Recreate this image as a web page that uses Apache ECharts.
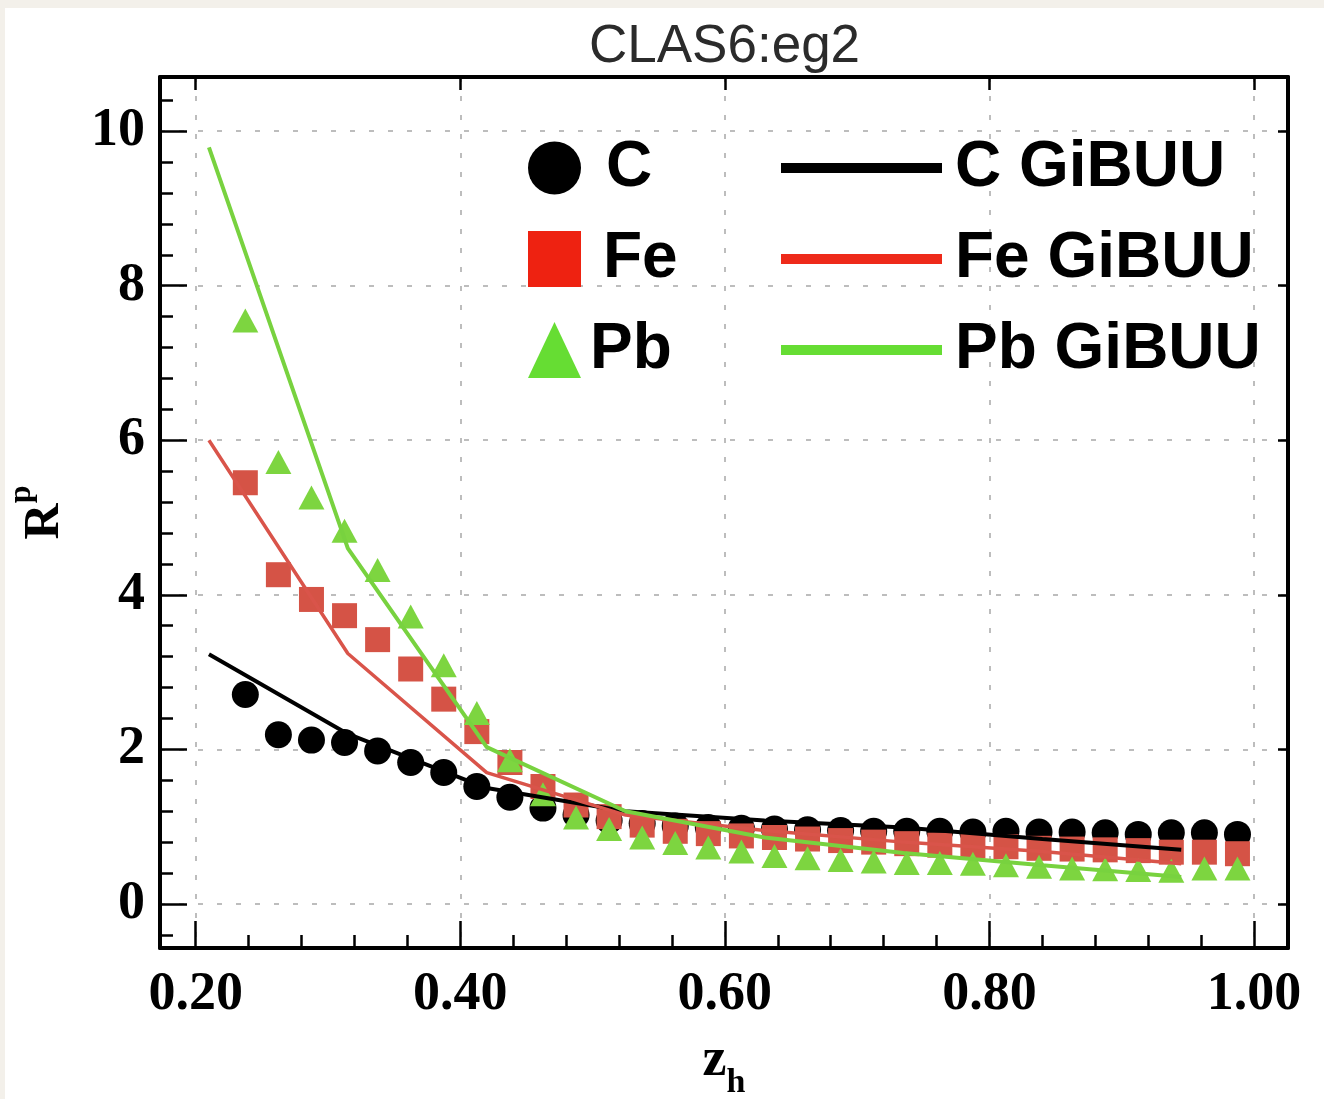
<!DOCTYPE html>
<html>
<head>
<meta charset="utf-8">
<title>CLAS6:eg2</title>
<script src="https://cdn.jsdelivr.net/npm/echarts@6.0.0/dist/echarts.min.js"></script>
<style>
html,body{margin:0;padding:0;}
body{background:#f3f0ea;width:1324px;height:1099px;overflow:hidden;}
#chart{position:absolute;left:5px;top:8px;width:1319px;height:1091px;background:#fff;}
</style>
</head>
<body>
<div id="chart"></div>
<script>
// data points (z_h bins)
var zh = [0.2375, 0.2625, 0.2875, 0.3125, 0.3375, 0.3625, 0.3875, 0.4125, 0.4375, 0.4625,
          0.4875, 0.5125, 0.5375, 0.5625, 0.5875, 0.6125, 0.6375, 0.6625, 0.6875, 0.7125,
          0.7375, 0.7625, 0.7875, 0.8125, 0.8375, 0.8625, 0.8875, 0.9125, 0.9375, 0.9625, 0.9875];
var rC  = [2.71, 2.19, 2.12, 2.09, 1.98, 1.83, 1.70, 1.52, 1.38, 1.24,
           1.15, 1.08, 1.04, 1.01, 0.99, 0.98, 0.97, 0.96, 0.95, 0.94,
           0.94, 0.94, 0.93, 0.94, 0.93, 0.93, 0.92, 0.90, 0.92, 0.92, 0.90];
var rFe = [5.45, 4.26, 3.94, 3.73, 3.42, 3.04, 2.65, 2.23, 1.83, 1.52,
           1.28, 1.13, 1.02, 0.94, 0.91, 0.88, 0.86, 0.84, 0.82, 0.80,
           0.78, 0.76, 0.75, 0.74, 0.72, 0.71, 0.70, 0.69, 0.67, 0.67, 0.65];
var rPb = [7.55, 5.72, 5.26, 4.83, 4.32, 3.72, 3.09, 2.47, 1.86, 1.42,
           1.12, 0.97, 0.86, 0.79, 0.73, 0.68, 0.62, 0.59, 0.57, 0.55,
           0.53, 0.53, 0.52, 0.50, 0.48, 0.46, 0.45, 0.44, 0.43, 0.46, 0.46];

// GiBUU curves
var zModel  = [0.21, 0.315, 0.42, 0.525, 0.63, 0.735, 0.84, 0.945];
var cGibuu  = [3.23, 2.20, 1.50, 1.20, 1.08, 0.99, 0.84, 0.70];
var feGibuu = [6.00, 3.24, 1.70, 1.15, 0.95, 0.80, 0.68, 0.52];
var pbGibuu = [9.79, 4.60, 2.03, 1.20, 0.86, 0.66, 0.50, 0.35];

// ticks
var xMajor = [0.2, 0.4, 0.6, 0.8, 1.0];
var xMinor = [0.2, 0.24, 0.28, 0.32, 0.36, 0.4, 0.44, 0.48, 0.52, 0.56, 0.6,
              0.64, 0.68, 0.72, 0.76, 0.8, 0.84, 0.88, 0.92, 0.96, 1.0];
var yMajor = [0, 2, 4, 6, 8, 10];
var yMinor = [-0.4, 0, 0.4, 0.8, 1.2, 1.6, 2, 2.4, 2.8, 3.2, 3.6, 4, 4.4, 4.8, 5.2,
              5.6, 6, 6.4, 6.8, 7.2, 7.6, 8, 8.4, 8.8, 9.2, 9.6, 10, 10.4];

var xMin = 0.173, xMax = 1.0257;
var yMin = -0.57, yMax = 10.70;

function pairs(xs, ys) {
  return xs.map(function(x, i){ return [x, ys[i]]; });
}

var serif = "'Liberation Serif', 'Times New Roman', serif";
var sans = "'Liberation Sans', Arial, Helvetica, sans-serif";
var tickStyle = {color:'#000', width:2.5};
var box = {left:155, right:36, top:69, bottom:151, outerBoundsMode:'none', containLabel:false};

var chart = echarts.init(document.getElementById('chart'));

var option = {
  animation: false,
  backgroundColor: '#fff',
  title: {
    text: 'CLAS6:eg2',
    left: 579, top: 8,
    textStyle: {fontSize:53, fontWeight:'normal', fontFamily:sans, color:'#2b2b2b'}
  },
  legend: [
    {
      data: [
        {name:'C', icon:'circle', itemStyle:{color:'#000', opacity:1}, textStyle:{padding:[0,0,0,20]}},
        {name:'Fe', icon:'rect', itemStyle:{color:'#ee2211', opacity:1}, textStyle:{padding:[0,0,0,17]}},
        {name:'Pb', icon:'triangle', itemStyle:{color:'#66dd33', opacity:1}, textStyle:{padding:[0,0,0,4]}}
      ],
      orient:'vertical', left:523, top:128, padding:0,
      itemWidth:53, itemHeight:56, itemGap:27, selectedMode:false,
      textStyle:{fontSize:64, fontWeight:'bold', fontFamily:sans, color:'#000', lineHeight:64, padding:[0,0,0,20]}
    },
    {
      data: [
        {name:'C GiBUU', icon:'rect', itemStyle:{color:'#000'}},
        {name:'Fe GiBUU', icon:'rect', itemStyle:{color:'#ee2a1a'}},
        {name:'Pb GiBUU', icon:'rect', itemStyle:{color:'#66dd33'}}
      ],
      orient:'vertical', left:776, top:128, padding:0,
      itemWidth:161, itemHeight:10, itemGap:27, selectedMode:false,
      textStyle:{fontSize:64, fontWeight:'bold', fontFamily:sans, color:'#000', lineHeight:64, padding:[0,0,0,8]}
    }
  ],
  grid: [
    Object.assign({}, box),
    Object.assign({}, box),
    Object.assign({}, box)
  ],
  xAxis: [
    {
      gridIndex:0, type:'value', min:xMin, max:xMax, position:'bottom',
      axisLine:{onZero:false, lineStyle:{color:'#000', width:4}},
      axisTick:{inside:true, length:27, customValues:xMajor, lineStyle:tickStyle},
      axisLabel:{customValues:xMajor, formatter:function(v){ return v.toFixed(2); },
                 fontSize:54, fontWeight:'bold', fontFamily:serif, color:'#000', margin:20},
      splitLine:{show:true, lineStyle:{color:'#a8a8a8', width:1.5, type:[5,14]}},
      name:'{z|z}{s|h}', nameLocation:'middle', nameGap:86,
      nameTextStyle:{
        fontFamily:serif, fontWeight:'bold', color:'#000',
        rich:{
          z:{fontSize:54, lineHeight:54, fontFamily:serif, fontWeight:'bold', verticalAlign:'top'},
          s:{fontSize:34, lineHeight:34, fontFamily:serif, fontWeight:'bold', verticalAlign:'top', padding:[32,0,0,0]}
        }
      }
    },
    {
      gridIndex:1, type:'value', min:xMin, max:xMax, position:'bottom',
      axisLine:{show:false, onZero:false},
      axisTick:{inside:true, length:13, customValues:xMinor, lineStyle:tickStyle},
      axisLabel:{show:false}, splitLine:{show:false}
    },
    {
      gridIndex:2, type:'value', min:xMin, max:xMax, position:'top',
      axisLine:{onZero:false, lineStyle:{color:'#000', width:4}},
      axisTick:{inside:true, length:13, customValues:xMajor, lineStyle:tickStyle},
      axisLabel:{show:false}, splitLine:{show:false}
    }
  ],
  yAxis: [
    {
      gridIndex:0, type:'value', min:yMin, max:yMax, position:'left',
      axisLine:{onZero:false, lineStyle:{color:'#000', width:4}},
      axisTick:{inside:true, length:27, customValues:yMajor, lineStyle:tickStyle},
      axisLabel:{customValues:yMajor, formatter:function(v){ return String(v); },
                 fontSize:54, fontWeight:'bold', fontFamily:serif, color:'#000', margin:15},
      splitLine:{show:true, lineStyle:{color:'#a8a8a8', width:1.5, type:[5,14]}},
      name:'{r|R}{p|p}', nameLocation:'middle', nameGap:104, nameRotate:90,
      nameTextStyle:{
        fontFamily:serif, fontWeight:'bold', color:'#000',
        rich:{
          r:{fontSize:50, lineHeight:50, fontFamily:serif, fontWeight:'bold', verticalAlign:'top', padding:[14,0,0,0]},
          p:{fontSize:32, lineHeight:32, fontFamily:serif, fontWeight:'bold', verticalAlign:'top'}
        }
      }
    },
    {
      gridIndex:1, type:'value', min:yMin, max:yMax, position:'left',
      axisLine:{show:false, onZero:false},
      axisTick:{inside:true, length:13, customValues:yMinor, lineStyle:tickStyle},
      axisLabel:{show:false}, splitLine:{show:false}
    },
    {
      gridIndex:2, type:'value', min:yMin, max:yMax, position:'right',
      axisLine:{onZero:false, lineStyle:{color:'#000', width:4}},
      axisTick:{inside:true, length:10, customValues:yMajor, lineStyle:tickStyle},
      axisLabel:{show:false}, splitLine:{show:false}
    }
  ],
  series: [
    {name:'C', type:'scatter', data:pairs(zh, rC), symbol:'circle', symbolSize:27,
     itemStyle:{color:'#000', opacity:1}},
    {name:'Fe', type:'scatter', data:pairs(zh, rFe), symbol:'rect', symbolSize:25,
     itemStyle:{color:'#d55346', opacity:1}},
    {name:'Pb', type:'scatter', data:pairs(zh, rPb), symbol:'triangle', symbolSize:[26,24],
     itemStyle:{color:'#7dd540', opacity:1}},
    {name:'C GiBUU', type:'line', data:pairs(zModel, cGibuu), symbol:'none',
     lineStyle:{color:'#000', width:4}, itemStyle:{color:'#000'}},
    {name:'Fe GiBUU', type:'line', data:pairs(zModel, feGibuu), symbol:'none',
     lineStyle:{color:'#d9544a', width:3.5}, itemStyle:{color:'#d9544a'}},
    {name:'Pb GiBUU', type:'line', data:pairs(zModel, pbGibuu), symbol:'none',
     lineStyle:{color:'#78d23f', width:4}, itemStyle:{color:'#78d23f'}}
  ]
};

chart.setOption(option);
</script>
</body>
</html>
